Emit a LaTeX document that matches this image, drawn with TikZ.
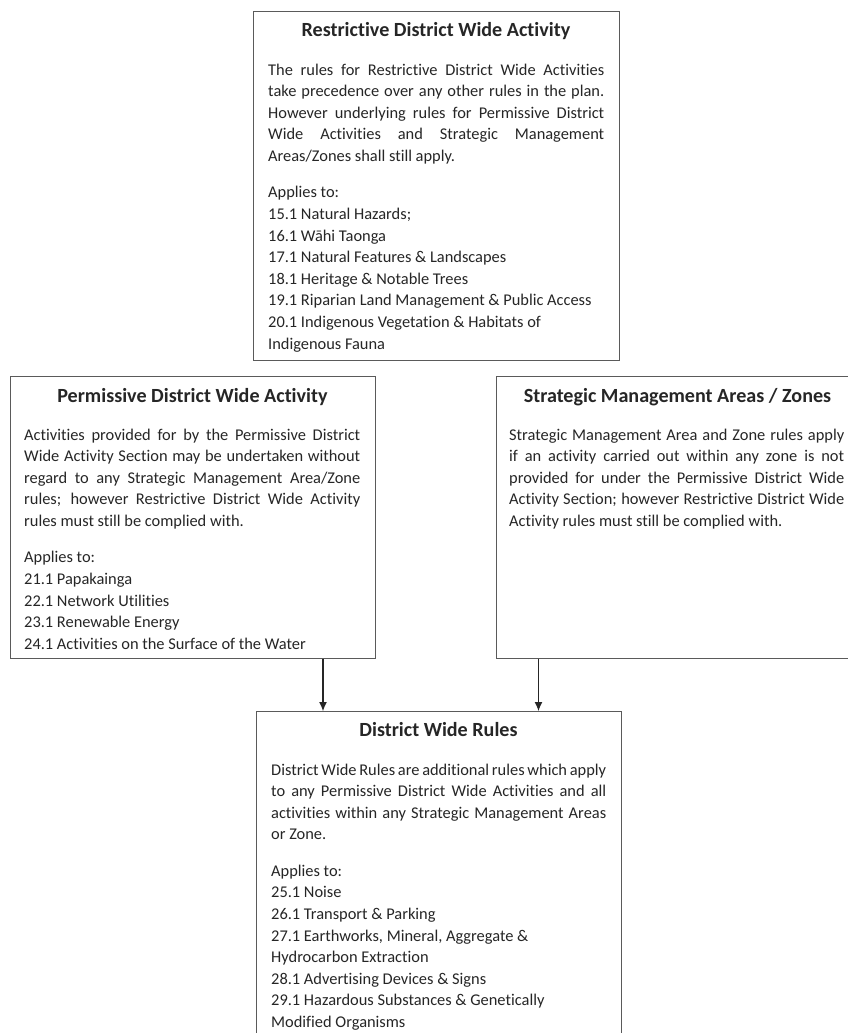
\documentclass[tikz,border=0pt]{standalone}
\usepackage{fontspec}
\setmainfont{Carlito}[Ligatures=NoCommon]
\usetikzlibrary{arrows.meta}
\definecolor{txt}{HTML}{262626}
\definecolor{frame}{HTML}{5A5A5A}
\tikzset{
  boxframe/.style={draw=frame, line width=1.4pt, fill=none, inner sep=0pt},
  ttl/.style={font=\fontsize{20.1}{24}\selectfont\bfseries, text=txt, inner sep=0pt},
  body/.style={font=\fontsize{16.4}{21.6}\selectfont, text=txt, inner sep=0pt, align=justify, text width=336pt},
  arr/.style={draw=txt, line width=1.1pt, -{Latex[length=9pt,width=8pt]}}
}
\newcommand{\pgap}{\par\vspace{14.8pt}}
\begin{document}
\begin{tikzpicture}[x=1pt,y=-1pt]
\path[use as bounding box, clip] (0,0) rectangle (848,1033);
\fill[white] (0,0) rectangle (848,1033);
\hyphenpenalty=10000 \tolerance=9999
% boxes
\node[boxframe, minimum width=366pt, minimum height=349pt, anchor=north west] (restr) at (253,11) {};
\node[boxframe, minimum width=365pt, minimum height=282pt, anchor=north west] (perm) at (10,376) {};
\node[boxframe, minimum width=363pt, minimum height=282pt, anchor=north west] (strat) at (496,376) {};
\node[boxframe, minimum width=365pt, minimum height=340pt, anchor=north west] (dwr) at (256,711) {};
% titles
\node[ttl, anchor=base] (restrT) at (436,37) {Restrictive District Wide Activity};
\node[ttl, anchor=base] (permT) at (192.5,402) {Permissive District Wide Activity};
\node[ttl, anchor=base] (stratT) at (677.5,402) {Strategic Management Areas / Zones};
\node[ttl, anchor=base] (dwrT) at (438.5,736) {District Wide Rules};
% bodies
\node[body, anchor=base west] (restrB) at (268,75) {The rules for Restrictive District Wide Activities\linebreak
take precedence over any other rules in the plan.\linebreak
However underlying rules for Permissive District\linebreak
Wide Activities and Strategic Management\linebreak
Areas/Zones shall still apply.\pgap
Applies to:\\
15.1 Natural Hazards;\\
16.1 Wāhi Taonga\\
17.1 Natural Features \& Landscapes\\
18.1 Heritage \& Notable Trees\\
19.1 Riparian Land Management \& Public Access\\
20.1 Indigenous Vegetation \& Habitats of\\
Indigenous Fauna};
\node[body, anchor=base west] (permB) at (24,440) {Activities provided for by the Permissive District\linebreak
Wide Activity Section may be undertaken without\linebreak
regard to any Strategic Management Area/Zone\linebreak
rules; however Restrictive District Wide Activity\linebreak
rules must still be complied with.\pgap
Applies to:\\
21.1 Papakainga\\
22.1 Network Utilities\\
23.1 Renewable Energy\\
24.1 Activities on the Surface of the Water};
\node[body, anchor=base west, text width=335pt] (stratB) at (509,440) {Strategic Management Area and Zone rules apply\linebreak
if an activity carried out within any zone is not\linebreak
provided for under the Permissive District Wide\linebreak
Activity Section; however Restrictive District Wide\linebreak
Activity rules must still be complied with.};
\node[body, anchor=base west, text width=335pt] (dwrB) at (271,775) {District Wide Rules are additional rules which apply\linebreak
to any Permissive District Wide Activities and all\linebreak
activities within any Strategic Management Areas\linebreak
or Zone.\pgap
Applies to:\\
25.1 Noise\\
26.1 Transport \& Parking\\
27.1 Earthworks, Mineral, Aggregate \&\\
Hydrocarbon Extraction\\
28.1 Advertising Devices \& Signs\\
29.1 Hazardous Substances \& Genetically\\
Modified Organisms};
% connectors
\coordinate (la) at (323,0);
\coordinate (ra) at (538.5,0);
\draw[arr] (perm.south -| la) -- (dwr.north -| la);
\draw[arr] (strat.south -| ra) -- (dwr.north -| ra);
\end{tikzpicture}
\end{document}
